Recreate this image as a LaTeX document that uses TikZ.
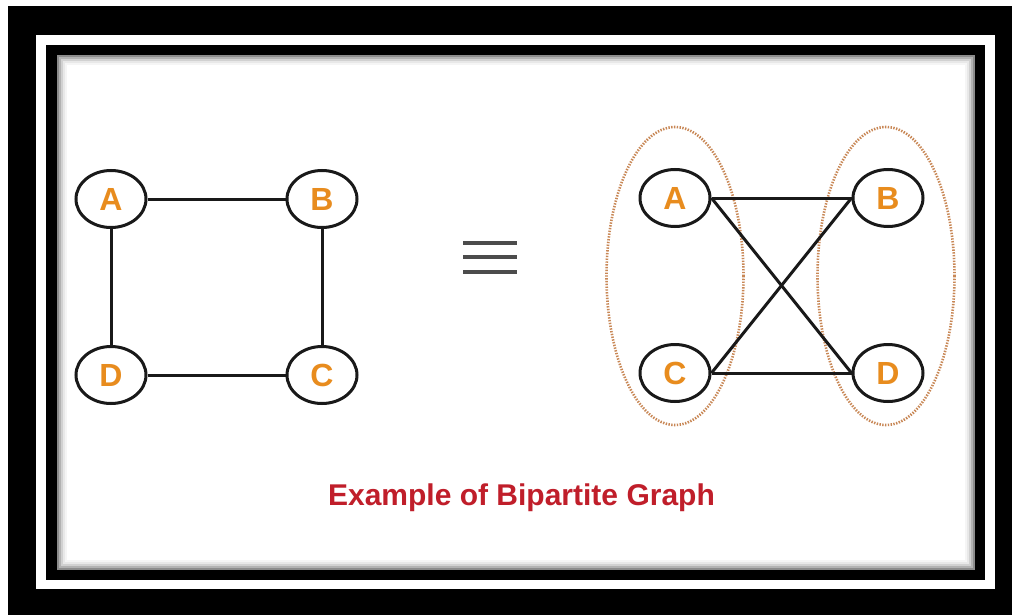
\documentclass[tikz,border=0pt]{standalone}
\usepackage{fontspec}
\setmainfont{Liberation Sans}
\usepackage{xcolor}
\usetikzlibrary{shapes.geometric}
\definecolor{vxorange}{RGB}{232,140,30}
\definecolor{captred}{RGB}{192,30,42}
\definecolor{setdot}{RGB}{200,135,85}
\definecolor{edgegray}{RGB}{25,25,25}
\begin{document}
\begin{tikzpicture}[x=1pt,y=-1pt,
  vertex/.style={ellipse,draw=edgegray,line width=3pt,fill=white,minimum width=70pt,minimum height=57pt,inner sep=0pt,font=\fontsize{32}{34}\selectfont\bfseries,text=vxorange},
  link/.style={draw=edgegray,line width=3pt},
  part/.style={ellipse,draw=setdot,line width=2.6pt,dash pattern=on 1.4pt off 1.4pt,minimum width=137pt,minimum height=298pt,inner sep=0pt},
  eqbar/.style={draw=black!70,line width=3.2pt}]
\useasboundingbox (0,0) rectangle (1012,615);
\fill[white] (0,0) rectangle (1012,615);
\fill[black] (8,6) rectangle (1012,615);
\fill[white] (36,35) rectangle (995,589);
\fill[black] (46,45) rectangle (985,580);
\foreach \d/\k in {0/45,2/30,4/18,6/9,8/4,10/0}
  \fill[black!\k] (57+\d,55+\d) rectangle (975-\d,570-\d);
\node[vertex] (lA) at (111,199) {A};
\node[vertex] (lB) at (322,199) {B};
\node[vertex] (lD) at (111,375) {D};
\node[vertex] (lC) at (322,375) {C};
\draw[link] (lA) -- (lB);
\draw[link] (lA) -- (lD);
\draw[link] (lB) -- (lC);
\draw[link] (lD) -- (lC);
\draw[eqbar] (463,243) -- (517,243);
\draw[eqbar] (463,257) -- (517,257);
\draw[eqbar] (463,272) -- (517,272);
\node[part] (setL) at (675,276) {};
\node[part] (setR) at (886,276) {};
\node[vertex] (rA) at (675,198) {A};
\node[vertex] (rB) at (888,198) {B};
\node[vertex] (rC) at (675,373) {C};
\node[vertex] (rD) at (888,373) {D};
\draw[link] (rA.east) -- (rB.west);
\draw[link] (rA.east) -- (rD.west);
\draw[link] (rC.east) -- (rB.west);
\draw[link] (rC.east) -- (rD.west);
\node[anchor=base,text=captred,font=\fontsize{30}{32}\selectfont\bfseries] (caption) at (521.5,505) {Example of Bipartite Graph};
\end{tikzpicture}
\end{document}
